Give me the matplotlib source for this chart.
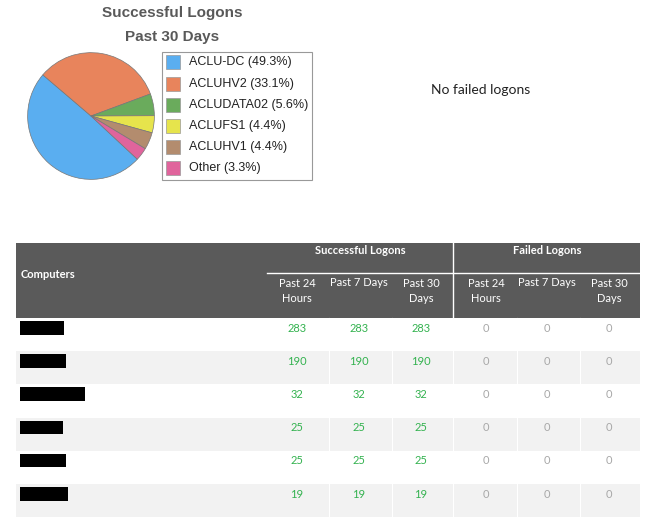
import matplotlib
matplotlib.use("Agg")
import matplotlib.pyplot as plt
from matplotlib.patches import Rectangle

# ---------------- data ----------------
pie_labels = ["ACLU-DC", "ACLUHV2", "ACLUDATA02", "ACLUFS1", "ACLUHV1", "Other"]
pie_values = [283, 190, 32, 25, 25, 19]
pie_colors = ["#5aaef0", "#e8845c", "#6aab5c", "#e6e44c", "#b38c6e", "#e0649c"]

chart_title = ["Successful Logons", "Past 30 Days"]
no_failed_text = "No failed logons"

group_headers = ["Successful Logons", "Failed Logons"]
sub_headers = ["Past 24\nHours", "Past 7 Days", "Past 30\nDays"]
first_col_header = "Computers"

succ_24h = [283, 190, 32, 25, 25, 19]
succ_7d = [283, 190, 32, 25, 25, 19]
succ_30d = [283, 190, 32, 25, 25, 19]
fail_24h = [0, 0, 0, 0, 0, 0]
fail_7d = [0, 0, 0, 0, 0, 0]
fail_30d = [0, 0, 0, 0, 0, 0]

# redaction box widths (style only)
redact_w = [44, 46, 65, 43, 46, 48]

W, H = 651, 520
fig = plt.figure(figsize=(W / 100, H / 100), dpi=100)
fig.patch.set_facecolor("white")

ax = fig.add_axes([0, 0, 1, 1])
ax.set_xlim(0, W)
ax.set_ylim(H, 0)
ax.axis("off")

# ---------------- pie ----------------
cx, cy, r = 91, 116, 64
pax = fig.add_axes([(cx - r) / W, 1 - (cy + r) / H, 2 * r / W, 2 * r / H])
pax.pie(pie_values, colors=pie_colors, startangle=-43, counterclock=False,
        wedgeprops=dict(edgecolor="#777777", linewidth=0.5))
pax.set_xlim(-1.01, 1.01)
pax.set_ylim(-1.01, 1.01)
pax.set_aspect("equal")
pax.axis("off")

title_font = ["Liberation Sans", "DejaVu Sans"]
ax.text(172, 13, chart_title[0], ha="center", va="center", fontsize=11,
        fontweight="bold", color="#595959", family=title_font)
ax.text(172, 37, chart_title[1], ha="center", va="center", fontsize=11,
        fontweight="bold", color="#595959", family=title_font)

# legend
ax.add_patch(Rectangle((162, 52), 150, 128, facecolor="white",
                       edgecolor="#999999", linewidth=0.8))
total = sum(pie_values)
row_y = [62, 83.5, 105, 126, 147, 168]
for i, (lab, v, c) in enumerate(zip(pie_labels, pie_values, pie_colors)):
    y = row_y[i]
    ax.add_patch(Rectangle((166, y - 7), 14, 14, facecolor=c,
                           edgecolor="#999999", linewidth=0.5))
    ax.text(189, y, f"{lab} ({100 * v / total:.1f}%)", ha="left", va="center",
            fontsize=9, color="#222222", family=title_font)

ax.text(481, 90, no_failed_text, ha="center", va="center", fontsize=10,
        color="#222222", family=["Lato", "DejaVu Sans"])

# ---------------- table ----------------
tfont = ["Lato", "DejaVu Sans"]
x0, x1 = 16, 640
hy0, hy1 = 243, 318
ax.add_patch(Rectangle((x0, hy0), x1 - x0, hy1 - hy0, facecolor="#5a5a5a",
                       edgecolor="none"))
ax.plot([267, x1], [273, 273], color="white", lw=1)
ax.plot([453, 453], [hy0, hy1], color="white", lw=1)

ax.text(21, 275, first_col_header, ha="left", va="center", fontsize=8,
        fontweight="bold", color="white", family=tfont)
ax.text(360, 251, group_headers[0], ha="center", va="center", fontsize=8,
        fontweight="bold", color="white", family=tfont)
ax.text(547, 251, group_headers[1], ha="center", va="center", fontsize=8,
        fontweight="bold", color="white", family=tfont)

col_centers = [297, 359, 421, 486, 547, 609]
col_bounds = [267, 329, 392, 453, 517, 580, 640]
for g in range(2):
    for k, sh in enumerate(sub_headers):
        j = g * 3 + k
        yy = 282.5 if k == 1 else 291
        ax.text(col_centers[j], yy, sh, ha="center", va="center",
                fontsize=8, color="white", family=tfont, linespacing=1.55)

rows = list(zip(succ_24h, succ_7d, succ_30d, fail_24h, fail_7d, fail_30d))
rh = 33.2
for i, row in enumerate(rows):
    top = hy1 + i * rh
    if i % 2 == 1:
        ax.add_patch(Rectangle((x0, top), x1 - x0, rh, facecolor="#f2f2f2",
                               edgecolor="none"))
    ax.add_patch(Rectangle((20, top + 3), redact_w[i], 13.5,
                           facecolor="black", edgecolor="none"))
    for j, v in enumerate(row):
        color = "#33b24f" if j < 3 else "#a8a8a8"
        ax.text(col_centers[j], top + 10, str(v), ha="center", va="center",
                fontsize=8, color=color, family=tfont)

for xb in col_bounds[1:-1]:
    ax.plot([xb, xb], [hy1, hy1 + rh * len(rows)], color="white", lw=0.8)

fig.savefig("out.png", dpi=100, facecolor="white")
